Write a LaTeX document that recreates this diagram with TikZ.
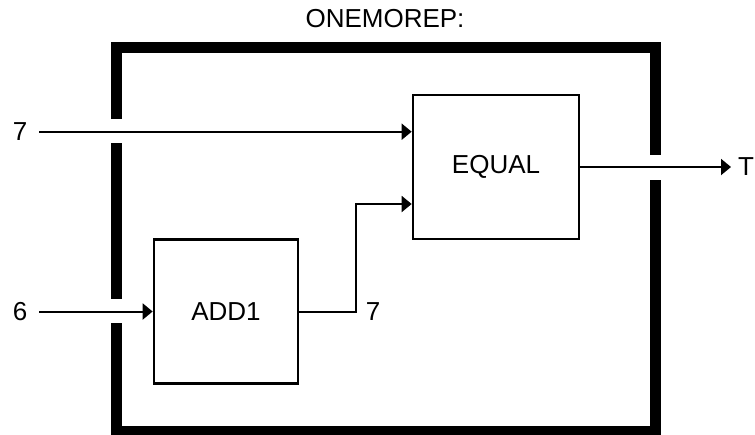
\documentclass[tikz,border=0pt]{standalone}
\usepackage{fontspec}
\setmainfont{Liberation Sans}
\usetikzlibrary{arrows.meta}
\begin{document}
\begin{tikzpicture}[x=1pt,y=-1pt,
  blk/.style={draw, line width=2.7pt, inner sep=0pt, font=\fontsize{26}{30}\selectfont},
  sig/.style={line width=2pt, -{Triangle[length=10pt,width=16pt]}},
  frm/.style={line width=11pt},
  lbl/.style={inner sep=0pt, font=\fontsize{26}{30}\selectfont}]
\useasboundingbox (0,0) rectangle (755,434);
% title
\node[lbl] (title) at (385,19) {ONEMOREP:};
% frame
\draw[frm] (116,143) -- (116,299);
\draw[frm] (116,119) -- (116,47.5) -- (655.5,47.5) -- (655.5,155);
\draw[frm] (655.5,180) -- (655.5,431.5) -- (116,431.5) -- (116,323);
% blocks
\node[blk, minimum width=166pt, minimum height=144pt] (eq) at (496,167) {EQUAL};
\node[blk, minimum width=144pt, minimum height=144pt] (add) at (226,311.5) {ADD1};
% inputs
\coordinate (in7) at (39,131.7);
\coordinate (in6) at (39,311.5);
\node[lbl] (l7) at (20,131.7) {7};
\node[lbl] (l6) at (20,311.5) {6};
\draw[sig] (in7) -- (eq.west |- in7);
\draw[sig] (in6) -- (add.west);
% internal connector
\coordinate (bend) at (356,311.5);
\coordinate (eqin2) at (eq.west |- 0,204);
\draw[sig] (add.east) -- (bend) |- (eqin2);
\node[lbl] (lmid) at (373,312) {7};
% output
\coordinate (outT) at (731,167);
\draw[sig] (eq.east) -- (outT);
\node[lbl, anchor=west] (lT) at (738,167) {T};
\end{tikzpicture}
\end{document}
